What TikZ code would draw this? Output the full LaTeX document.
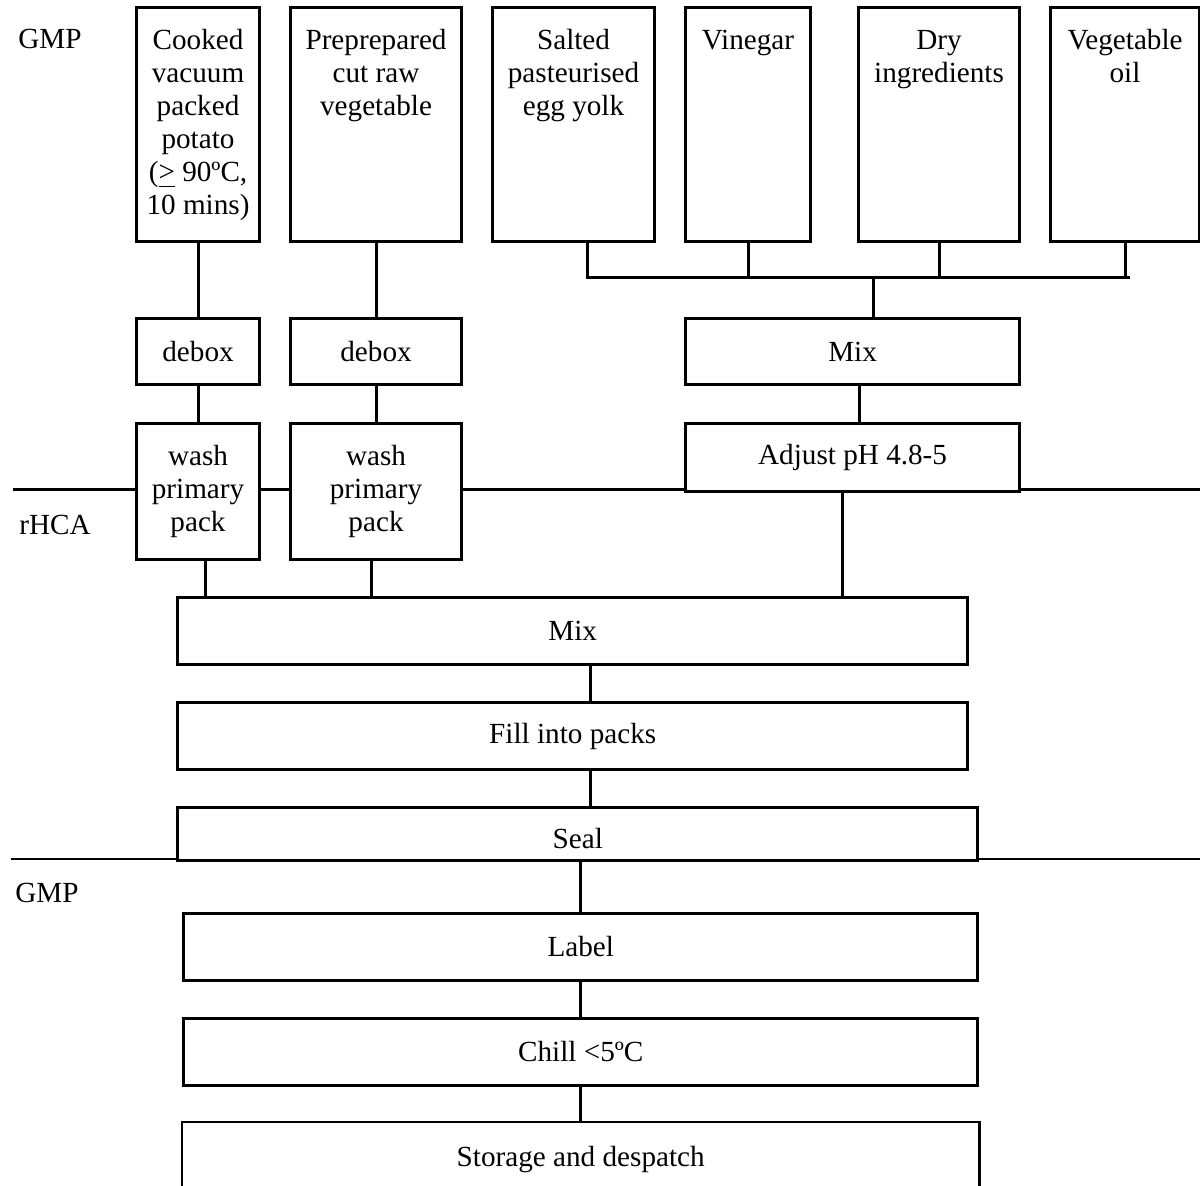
\documentclass[tikz,border=0pt]{standalone}
\usepackage{fontspec}
\setmainfont{Liberation Serif}
\usetikzlibrary{positioning,calc}
\tikzset{
  box/.style={draw,line width=0.85pt,fill=white,inner sep=0pt,anchor=north west,
              align=center},
  link/.style={line width=0.85pt},
  lane/.style={anchor=center},
}
% tall ingredient box: text hangs from the top
\newcommand{\toptext}[3]{\parbox[c][#2][t]{#1}{\centering\rule{0pt}{0.42cm}#3}}

\begin{document}
\begin{tikzpicture}[x=0.01cm,y=-0.01cm,font=\fontsize{8.3}{9.4}\selectfont]
  \useasboundingbox (0,0) rectangle (1200,1186);

  % lane dividers
  \coordinate (laneA) at (13,490);
  \coordinate (laneB) at (11,859);
  \draw[link] (laneA) -- (laneA -| 1200,0);
  \draw[link] (laneB) -- (laneB -| 1200,0);

  \node[lane] (gmp1) at (50,39) {GMP};
  \node[lane] (rhca) at (55,525) {rHCA};
  \node[lane] (gmp2) at (47,893) {GMP};

  % ingredients
  \node[box, minimum width=1.23cm, minimum height=2.34cm] (cooked) at (135,6)
    {\toptext{1.23cm}{2.34cm}{Cooked\\vacuum\\packed\\potato\\(\underline{>} 90ºC,\\10 mins)}};
  \node[box, minimum width=1.71cm, minimum height=2.34cm] (prep) at (289,6)
    {\toptext{1.71cm}{2.34cm}{Preprepared\\cut raw\\vegetable}};
  \node[box, minimum width=1.62cm, minimum height=2.34cm] (salted) at (491,6)
    {\toptext{1.62cm}{2.34cm}{Salted\\pasteurised\\egg yolk}};
  \node[box, minimum width=1.25cm, minimum height=2.34cm] (vinegar) at (684,6)
    {\toptext{1.25cm}{2.34cm}{Vinegar}};
  \node[box, minimum width=1.61cm, minimum height=2.34cm] (dry) at (857,6)
    {\toptext{1.61cm}{2.34cm}{Dry\\ingredients}};
  \node[box, minimum width=1.49cm, minimum height=2.34cm] (oil) at (1049,6)
    {\toptext{1.49cm}{2.34cm}{Vegetable\\oil}};

  % preparation
  \node[box, minimum width=1.23cm, minimum height=0.66cm] (debox1) at (135,317) {debox};
  \node[box, minimum width=1.71cm, minimum height=0.66cm] (debox2) at (289,317) {debox};
  \node[box, minimum width=3.34cm, minimum height=0.66cm] (mixtop) at (684,317) {Mix};
  \node[box, minimum width=1.23cm, minimum height=1.36cm] (wash1) at (135,422) {wash\\primary\\pack};
  \node[box, minimum width=1.71cm, minimum height=1.36cm] (wash2) at (289,422) {wash\\primary\\pack};
  \node[box, minimum width=3.34cm, minimum height=0.68cm] (adjust) at (684,422) {Adjust pH 4.8-5};

  % main line
  \node[box, minimum width=7.90cm, minimum height=0.67cm] (mixall) at (176,596) {Mix};
  \node[box, minimum width=7.90cm, minimum height=0.67cm] (fill) at (176,701) {Fill into packs};
  \node[box, minimum width=8.00cm, minimum height=0.53cm] (seal) at (176,806)
    {\raisebox{-0.14cm}[0pt][0pt]{Seal}};
  \node[box, minimum width=7.94cm, minimum height=0.67cm] (label) at (182,912) {Label};
  \node[box, minimum width=7.94cm, minimum height=0.67cm] (chill) at (182,1017) {Chill <5ºC};
  \node[box, draw=none, fill=none, minimum width=7.94cm, minimum height=0.64cm] (store) at (182,1122)
    {\raisebox{-0.11cm}[0pt][0pt]{Storage and despatch}};
  \draw[link] (store.south west) |- (store.north east) -- (store.south east);

  % ingredient bus
  \coordinate (busL) at ([xshift=0.14cm]salted.south |- 0,278);
  \coordinate (busR) at (1130,278);
  \coordinate (busM) at ([xshift=0.21cm]mixtop.north |- 0,278);
  \draw[link] ([xshift=0.14cm]salted.south) -- (busL) -- (busR);
  \foreach \b in {vinegar,dry,oil}
    \draw[link] (\b.south) -- (\b.south |- busL);
  \draw[link] (busM) -- (busM |- mixtop.north);

  % connectors
  \draw[link] (cooked.south) -- (debox1.north);
  \draw[link] (prep.south) -- (debox2.north);
  \draw[link] (debox1.south) -- (wash1.north);
  \draw[link] (debox2.south) -- (wash2.north);
  \draw[link] ([xshift=0.07cm]mixtop.south) -- ([xshift=0.07cm]adjust.north);
  \draw[link] ([xshift=0.075cm]wash1.south) -- ([xshift=0.075cm]wash1.south |- mixall.north);
  \draw[link] ([xshift=-0.05cm]wash2.south) -- ([xshift=-0.05cm]wash2.south |- mixall.north);
  \draw[link] ([xshift=-0.10cm]adjust.south) -- ([xshift=-0.10cm]adjust.south |- mixall.north);
  \draw[link] ([xshift=0.18cm]mixall.south) -- ([xshift=0.18cm]mixall.south |- fill.north);
  \draw[link] ([xshift=0.18cm]fill.south) -- ([xshift=0.18cm]fill.south |- seal.north);
  \draw[link] (label.north |- seal.south) -- (label.north);
  \draw[link] (label.south) -- (chill.north);
  \draw[link] (chill.south) -- (store.north);
\end{tikzpicture}
\end{document}
